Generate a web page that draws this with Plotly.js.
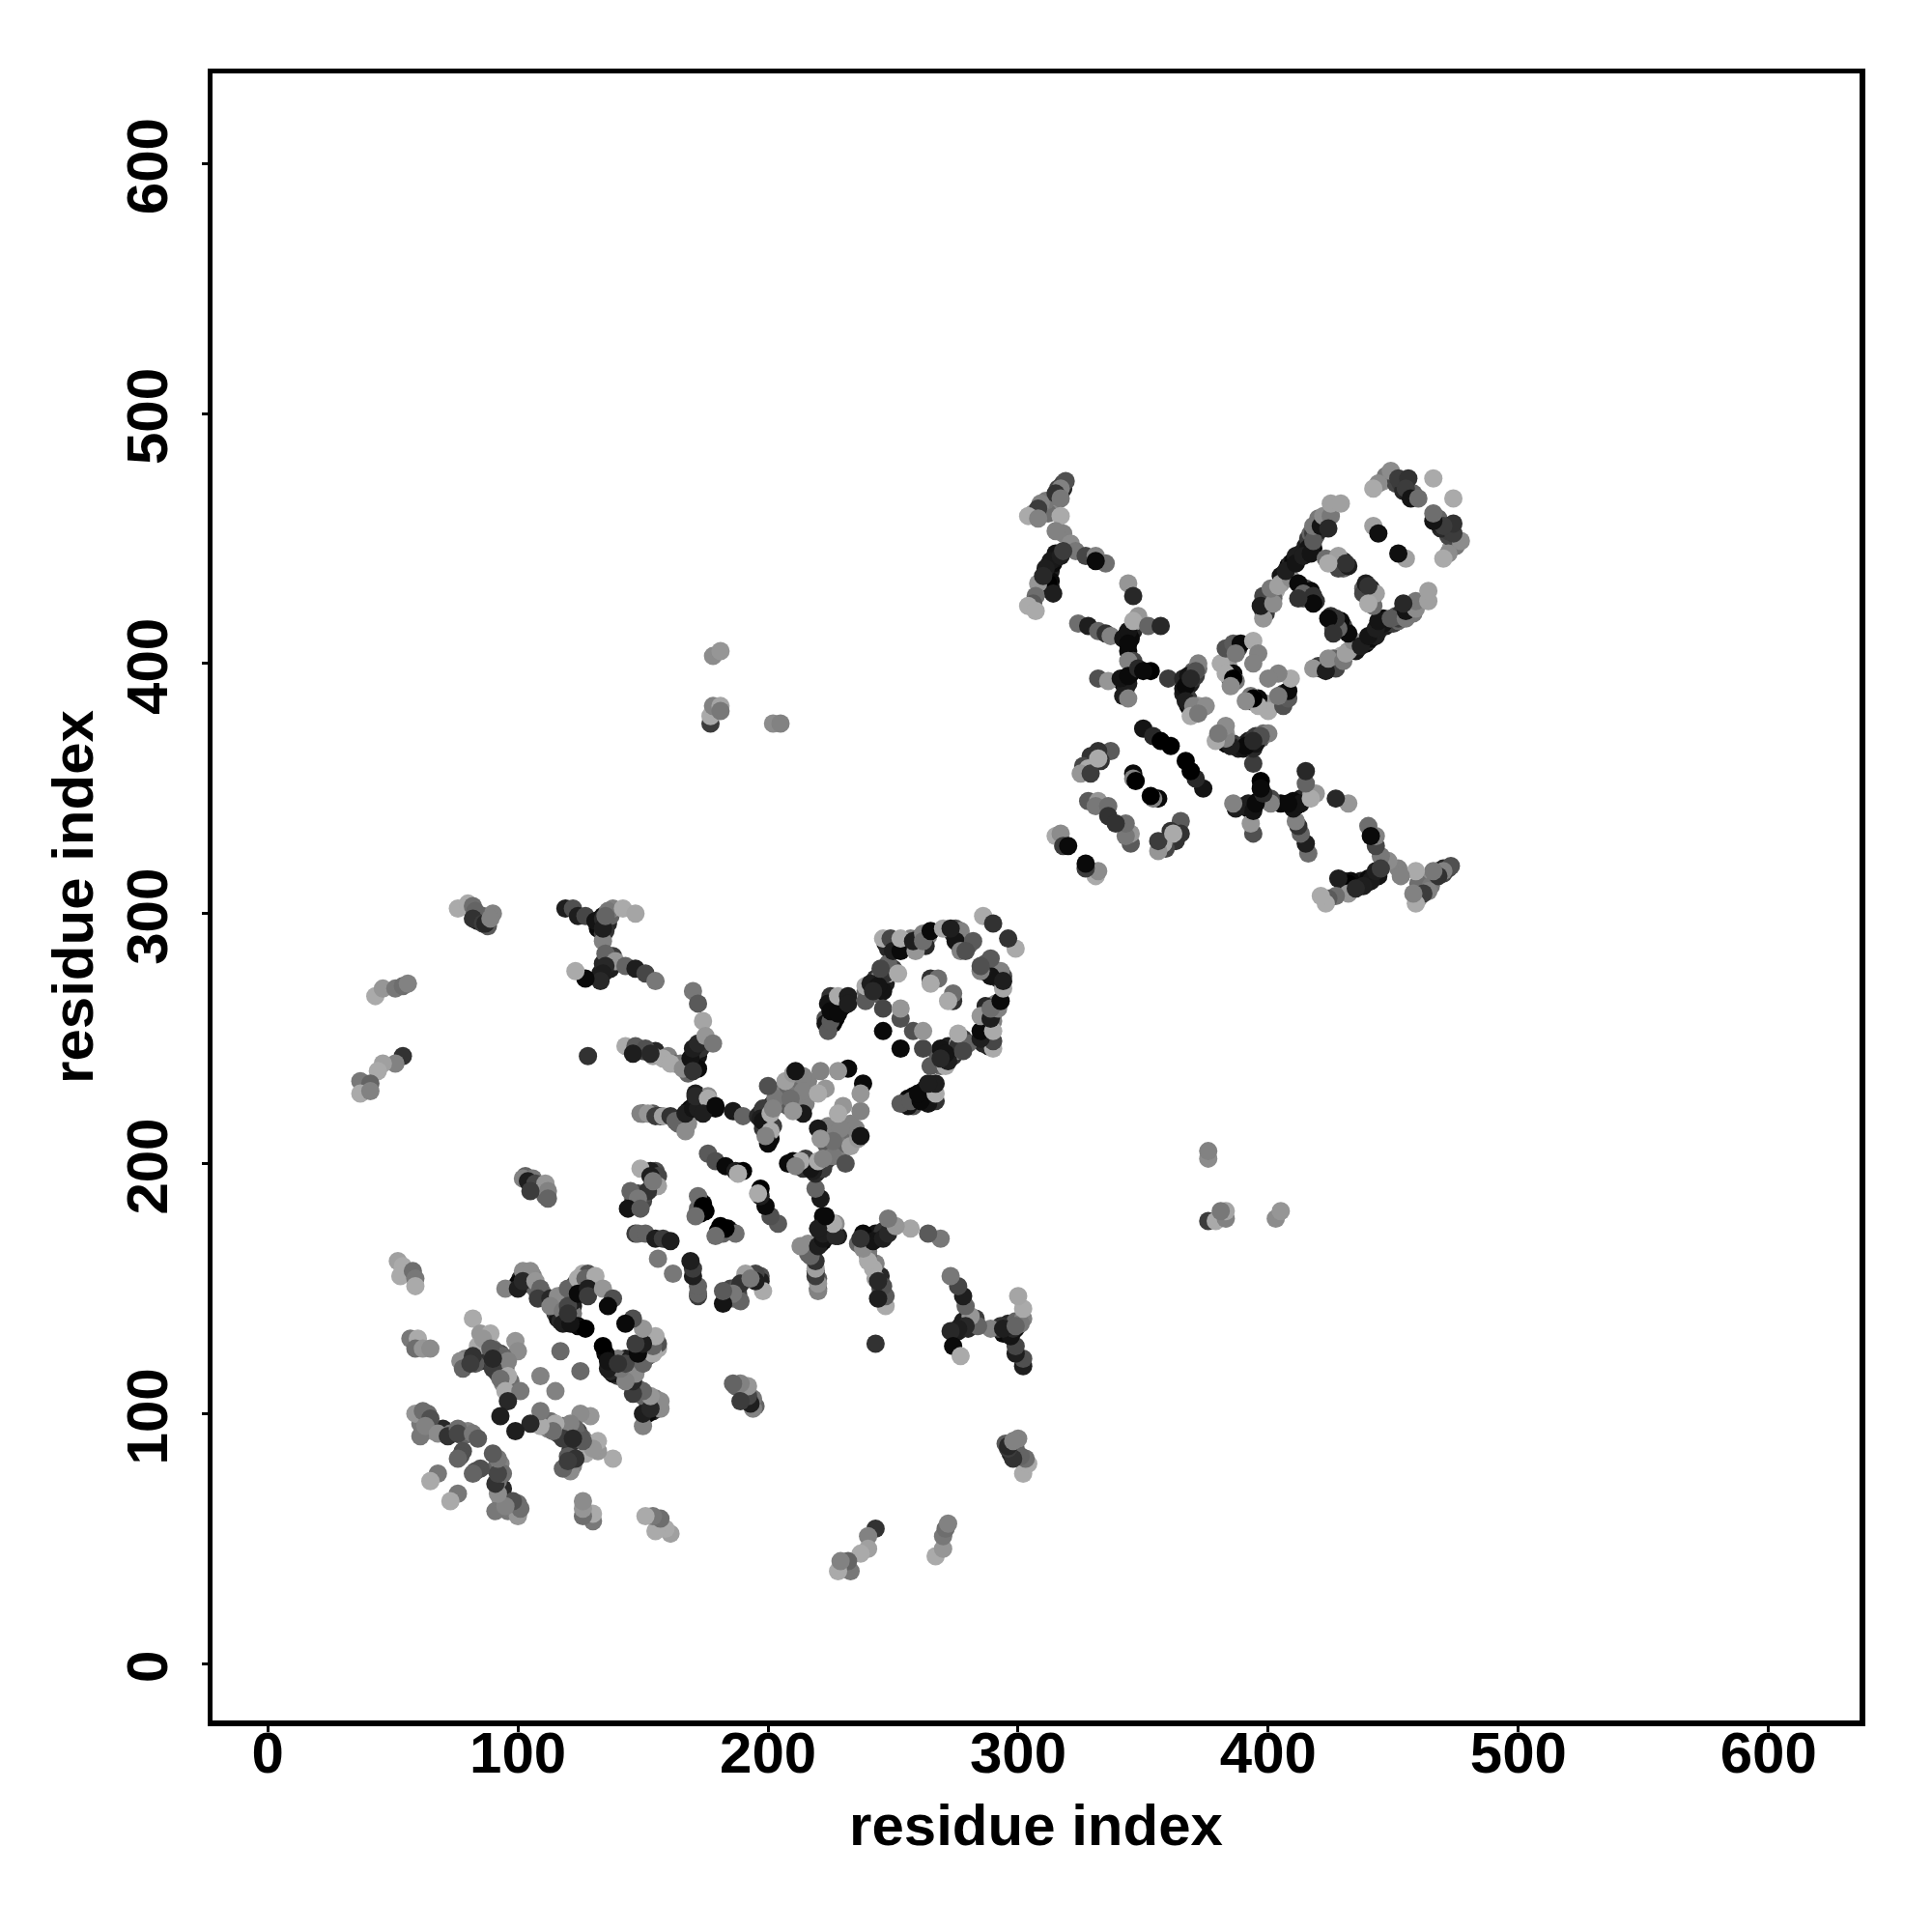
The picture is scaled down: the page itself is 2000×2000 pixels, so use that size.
<!DOCTYPE html>
<html><head><meta charset="utf-8">
<script src="https://cdn.plot.ly/plotly-3.0.1.min.js"></script>
<style>html,body{margin:0;background:#fff}#c{width:2000px;height:2000px}</style>
</head><body><div id="c"></div>
<script>
const tickValues = [0,100,200,300,400,500,600];
const axisLabel = "residue index";
const contactI = [52,54,53,58,59,59,57,60,59,62,65,82,85,89,84,99,100,77,82,78,81,91,94,96,90,96,93,95,101,96,86,89,90,109,117,93,95,102,105,100,102,107,109,108,113,116,113,120,118,120,124,127,131,124,128,128,134,138,136,118,124,127,121,120,59,62,65,61,63,68,72,76,76,82,84,77,76,68,65,147,148,151,155,158,161,156,
76,80,82,83,82,86,87,89,43,46,51,54,56,54,51,46,44,37,41,37,41,128,119,122,124,127,131,134,135,134,138,136,142,147,135,139,135,134,133,127,123,143,147,151,155,134,135,143,147,151,154,158,161,166,169,170,172,170,170,172,174,175,178,146,153,149,152,155,158,161,163,167,167,170,171,176,179,102,104,107,111,112,112,105,149,156,153,156,152,145,148,144,149,172,174,173,154,
172,171,176,174,179,186,190,196,198,197,198,201,201,200,199,203,200,207,210,214,214,209,214,210,221,223,220,232,228,211,202,176,179,183,187,190,188,171,
224,225,224,225,228,228,232,232,239,239,239,243,245,247,246,248,252,246,253,253,246,249,250,253,253,259,258,262,262,265,270,275,277,275,282,277,279,286,290,265,268,265,246,241,244,242,273,245,
319,317,315,317,309,308,304,308,317,318,315,321,323,327,331,335,331,315,313,311,317,318,312,314,308,307,306,304,307,310,344,346,324,328,332,335,337,342,344,344,348,346,352,357,346,344,332,336,341,344,348,353,350,360,366,368,372,371,367,369,342,344,367,370,375,369,372,381,383,386,389,387,394,396,394,383,386,385,
350,354,357,361,337,332,329,326,328,325,333,329,332,346,346,347,328,332,331,336,336,315,317,318,320,
398,398,397,402,401,404,409,407,411,414,417,418,418,421,422,425,425,429,424,423,428,432,431,424,412,414,418,418,412,442,444,449,444,442,452,456,455,457,460,466,
178,181,177,177,178,181,181,202,205];
const contactJ = [161,159,155,157,154,151,130,130,126,126,126,138,132,132,127,129,125,121,123,118,120,125,123,121,118,115,114,109,109,105,130,126,122,115,125,99,150,157,157,150,153,153,150,146,146,147,143,150,141,143,154,154,155,148,150,147,150,146,143,136,135,134,136,140,100,101,98,91,95,92,91,94,92,92,90,83,82,76,73,172,172,172,170,170,169,162,
302,304,303,301,298,296,296,298,267,270,270,271,272,243,240,240,237,233,232,228,229,243,302,302,299,299,297,298,293,289,302,301,302,300,284,281,279,276,273,274,277,279,278,276,273,294,299,247,247,246,243,242,240,238,242,246,248,237,269,264,257,251,248,244,244,220,220,219,219,219,217,213,220,222,228,227,222,194,193,192,192,189,186,189,198,195,195,191,189,189,186,182,182,187,183,180,193,
222,227,226,220,223,221,219,219,222,218,217,220,213,208,211,226,231,233,236,235,229,226,220,221,237,230,228,238,237,237,222,204,201,199,197,197,196,179,
253,257,264,261,260,267,267,264,269,265,271,274,275,276,269,280,276,262,258,262,290,290,285,285,290,285,289,292,289,293,294,294,293,289,289,285,285,299,296,274,274,272,253,272,271,269,294,278,
473,470,468,466,464,462,459,458,459,452,453,448,445,443,443,440,441,444,441,438,443,445,432,428,432,427,424,423,421,435,432,427,416,415,413,412,411,410,413,408,419,417,415,415,401,401,394,393,394,395,398,397,397,394,394,395,400,397,391,394,387,386,385,383,383,379,380,400,406,408,408,404,409,404,400,396,394,391,
374,371,369,367,365,365,363,359,358,356,361,356,362,356,354,353,345,345,343,343,339,331,332,327,327,
418,427,423,424,430,431,434,437,440,443,444,449,455,455,459,459,464,464,454,442,443,439,440,440,432,428,427,424,426,455,452,477,472,470,474,474,470,466,466,474,
403,405,376,379,383,383,381,376,376];
const contactShade = [160,170,170,110,120,170,120,170,110,150,140,170,150,170,170,150,140,140,50,100,60,90,100,130,60,170,110,170,120,40,150,90,40,130,105,30,130,140,140,30,40,150,100,60,40,140,130,100,120,70,170,100,170,10,30,60,150,80,10,30,10,0,20,50,150,110,80,120,130,140,50,110,70,120,90,80,100,120,170,60,100,100,30,60,30,120,
170,170,110,100,50,60,40,130,170,150,120,110,130,50,130,160,170,120,100,170,130,50,30,80,30,70,20,40,50,130,130,120,170,165,100,150,40,30,40,10,170,100,30,70,120,30,100,170,90,80,160,170,170,140,20,30,40,50,120,90,165,150,120,30,40,130,150,60,160,50,100,140,30,20,30,140,10,130,30,70,150,130,100,60,170,70,30,160,50,100,120,20,90,110,0,0,120,
30,40,170,30,10,25,100,40,60,30,20,170,170,10,130,120,80,160,150,130,130,110,25,150,130,150,170,10,150,20,130,90,80,10,30,0,170,110,
90,90,20,10,10,170,30,30,110,90,170,50,130,50,20,100,170,70,80,150,170,70,30,10,170,150,30,130,110,10,165,80,130,20,90,130,80,170,50,50,110,170,10,30,20,40,30,70,
80,130,50,120,130,60,170,130,170,130,130,140,120,70,130,110,10,20,25,30,30,60,0,30,150,110,90,170,170,40,150,40,110,30,100,50,130,20,20,10,150,170,100,40,70,130,80,150,20,10,40,0,10,60,40,20,130,80,10,40,30,130,30,130,140,170,120,170,80,90,10,120,170,130,130,170,0,140,
20,40,0,0,90,50,50,70,170,150,50,60,170,10,130,0,90,150,120,110,50,170,140,60,10,
150,70,30,140,120,160,140,30,20,30,20,90,120,20,140,120,160,160,40,110,160,30,50,170,10,100,50,10,50,160,15,140,140,170,60,50,60,20,110,170,
140,150,60,170,130,165,120,140,130];

// contacts packed inside the dense dark stems, drawn underneath the others
const stemI = [311,312,313,314,315,316,313,313,311,343,344,345,346,347,345,347,344,342,343,344,345,343,346,368,369,370,371,367,370,372,405,408,409,410,412,413,415,416,417,419,420,418,411,
240,241,242,243,244,245,246,247,245,248,250,243,226,228,230,226,229,225,133,135,136,134,137,138,133,135,134,132,134,136,133,137,168,169,170,171,172,171,173,167,168,169,171,172,173,170,197,198,199,200,200,199,201,202,203,
115,117,118,119,121,122,123,125,126,116,117,122,86,88,88,91,92,90,93,
318,318,317,316,316,315,312,310,312,306,311,418,419,420,421,420,422,423,417,416,399,400,403,405,399,402,398,425,427,429,430,430,428,413,415,416,417,414,419,446,447,451,453,454,456,458,384,385,387,388,384,385,386,387,366,368,368,372,373,366,
255,257,260,260,264,263,274,276,280,278,277,247,248,251,252,250,223,226,227,223,229,231,204,206,208,209,211,212,213,216,205,208,213,215,199,200,201,202,198,150,154,157,164,166,168,150,155,160,163,165,168,170,172,146,146,147,150,151,153,155,155,153,148,173,172,174,175,
126,128,130,128,125,126,129,123,122,120,101,103,104,100,106,107,110,85,87,90,92,94,95,93,92,85,83,79,80,94,97,61,64,66,70,73,78,80,78,103,106,108,110,111,84,86,88,90];
const stemJ = [436,439,437,440,442,443,433,430,430,411,411,412,413,415,410,417,405,392,394,392,396,390,398,391,392,394,395,393,397,398,435,439,440,441,442,444,447,450,452,453,456,446,443,
270,269,271,272,273,273,274,272,270,276,278,268,264,263,263,258,266,267,276,277,279,280,278,283,296,296,299,294,292,296,298,299,240,239,240,241,243,245,246,238,221,222,224,225,226,221,220,221,220,222,218,216,223,224,225,
140,143,145,148,146,143,150,151,152,138,137,140,125,124,128,121,120,126,124,
472,470,468,467,470,465,463,461,460,460,465,452,451,453,457,458,456,457,447,446,425,427,429,432,420,426,421,441,442,440,438,441,438,431,430,426,429,426,425,473,475,472,472,469,468,468,403,405,407,406,399,393,396,393,388,386,383,383,382,390,
287,290,290,288,291,287,292,288,287,289,291,288,286,287,287,289,258,256,258,256,262,266,228,230,231,233,232,230,233,233,224,223,226,224,214,210,210,215,214,220,220,219,216,216,216,245,245,243,240,240,236,239,238,186,184,183,185,188,190,192,197,197,188,185,182,184,181,
156,156,154,153,149,148,152,152,145,146,154,156,152,152,155,150,148,128,128,124,123,120,118,118,116,121,120,122,120,112,113,96,100,93,94,92,91,93,85,195,194,190,189,187,297,299,295,300];
const stemShade = [20,10,30,10,20,30,10,20,100,10,30,20,30,40,10,150,10,10,20,30,10,30,30,20,30,50,60,10,90,110,20,10,40,10,20,50,30,60,100,140,110,10,30,
20,50,20,10,40,20,60,30,40,170,60,90,10,10,20,0,40,50,30,20,10,40,30,60,10,30,20,10,60,40,20,100,20,30,10,30,20,40,50,140,20,10,20,30,40,10,30,10,20,20,40,20,60,40,100,
60,90,30,60,40,30,10,20,60,20,40,120,60,50,110,50,100,120,70,
70,40,30,120,70,130,140,90,110,150,120,60,90,40,30,120,60,100,40,20,110,130,170,150,60,100,50,60,30,120,100,20,70,40,70,30,10,90,50,150,120,70,60,40,30,100,100,60,40,60,150,20,10,120,30,60,10,150,130,20,
60,130,100,50,130,40,40,60,90,20,110,30,40,20,60,110,80,10,5,20,20,30,90,130,100,130,100,120,110,130,100,90,120,130,30,40,10,60,50,50,90,30,100,130,140,70,40,130,100,120,100,40,10,130,60,10,70,80,120,60,80,30,70,20,100,10,0,
170,80,60,20,10,40,40,60,30,80,40,130,60,10,130,100,120,140,150,60,90,130,110,50,60,50,90,130,100,130,110,120,110,150,40,120,100,130,80,100,120,60,130,100,30,100,90,130];

const allI = stemI.concat(contactI), allJ = stemJ.concat(contactJ), allShade = stemShade.concat(contactShade);
const xValues = allI.concat(allJ);
const yValues = allJ.concat(allI);
const shades = allShade.concat(allShade).map(s => `rgb(${s},${s},${s})`);

const font60 = {family:'Liberation Sans',size:60,color:'#000',weight:'bold'};
const axisBase = {
  tickmode:'array', tickvals:tickValues, ticktext:tickValues.map(String),
  showgrid:false, zeroline:false, showline:true, mirror:true, linewidth:5.5, linecolor:'#000',
  ticks:'outside', ticklen:6, tickwidth:3, tickcolor:'#000',
  tickfont:font60
};
Plotly.newPlot('c',[{
  type:'scatter', mode:'markers', x:xValues, y:yValues,
  marker:{size:19,color:shades,line:{width:0}}, hoverinfo:'x+y'
}],{
  width:2000,height:2000,paper_bgcolor:'#fff',plot_bgcolor:'#fff',showlegend:false,
  margin:{l:219.5,r:75,t:75.5,b:218.5,pad:0},
  xaxis:Object.assign({},axisBase,{range:[-22.1,636.4],ticklabelstandoff:-30,title:{text:axisLabel,standoff:23,font:font60}}),
  yaxis:Object.assign({},axisBase,{range:[-22.7,636],tickangle:-90,ticklabelstandoff:12,ticklabelshift:12,title:{text:axisLabel,standoff:4,font:font60}})
},{displayModeBar:false,staticPlot:true});
</script></body></html>
